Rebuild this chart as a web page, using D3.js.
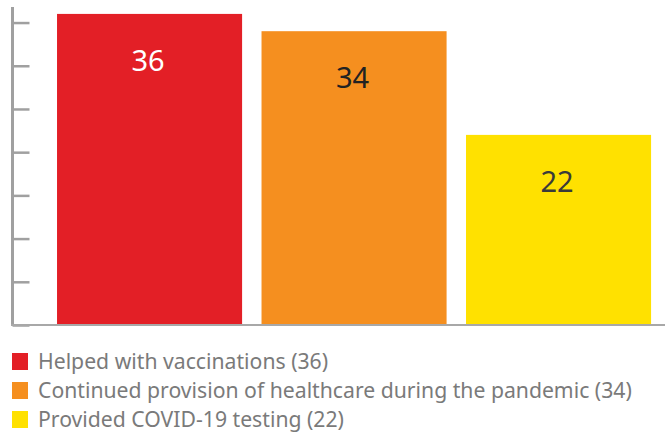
<!DOCTYPE html>
<html>
<head>
    <meta charset="utf-8">
    <style>
        body {
            margin: 0;
            background: #fff;
            font-family: "Noto Sans", "Open Sans", sans-serif;
        }
        svg {
            display: block;
        }
    </style>
</head>
<body>
    <svg width="665" height="445"></svg>

<script src="https://d3js.org/d3.v7.min.js"></script>
<script>
    // data
    const categories = ["Helped with vaccinations", "Continued provision of healthcare during the pandemic", "Provided COVID-19 testing"]
    const values = [36, 34, 22]
    const colors = ["#e31f26", "#f58f1f", "#ffe100"]
    const labelColors = ["#ffffff", "#222222", "#3a3a3a"]
    const yTicks = [0, 5, 10, 15, 20, 25, 30, 35]

    let svg = d3.select("svg")

    let x = d3.scaleBand()
        .domain(categories)
        .range([37.6, 670.5])
        .paddingInner(0.095)
        .paddingOuter(0.095)

    let y = d3.scaleLinear()
        .domain([0, 36.8])
        .range([325, 7])

    // bars
    svg.selectAll(".bar")
        .data(values)
        .join("rect")
        .attr("class", "bar")
        .attr("x", (d, i) => x(categories[i]))
        .attr("y", d => y(d))
        .attr("width", x.bandwidth())
        .attr("height", d => y(0) - y(d))
        .style("fill", (d, i) => colors[i])

    // value labels
    svg.selectAll(".val")
        .data(values)
        .join("text")
        .attr("class", "val")
        .attr("x", (d, i) => x(categories[i]) + x.bandwidth() / 2 - 1.5)
        .attr("y", d => y(d) + 57)
        .attr("text-anchor", "middle")
        .style("font-size", "29px")
        .style("fill", (d, i) => labelColors[i])
        .text(d => d)

    // y axis (ticks only, no labels)
    let yAxis = d3.axisLeft(y)
        .tickValues(yTicks)
        .tickSize(-17)
        .tickFormat("")

    let ya = svg.append("g")
        .attr("transform", "translate(12.5,0)")
        .call(yAxis)
    ya.select(".domain").remove()
    ya.selectAll(".tick line")
        .style("stroke", "#a0a0a0")
        .style("stroke-width", 2.5)

    svg.append("line")
        .attr("x1", 12.5).attr("x2", 12.5)
        .attr("y1", y.range()[1]).attr("y2", y(0) + 1)
        .style("stroke", "#a0a0a0")
        .style("stroke-width", 3)

    // baseline
    svg.append("line")
        .attr("x1", 11).attr("x2", 665)
        .attr("y1", y(0)).attr("y2", y(0))
        .style("stroke", "#a8a8a8")
        .style("stroke-width", 2)

    // legend
    let legend = svg.selectAll(".legend")
        .data(categories)
        .join("g")
        .attr("class", "legend")
        .attr("transform", (d, i) => "translate(12," + (353 + i * 29) + ")")

    legend.append("rect")
        .attr("width", 16)
        .attr("height", 17)
        .style("fill", (d, i) => colors[i])

    legend.append("text")
        .attr("x", 26)
        .attr("y", 16)
        .style("font-size", "21.2px")
        .style("fill", "#7a7a7a")
        .text((d, i) => d + " (" + values[i] + ")")
</script>
</body>
</html>
